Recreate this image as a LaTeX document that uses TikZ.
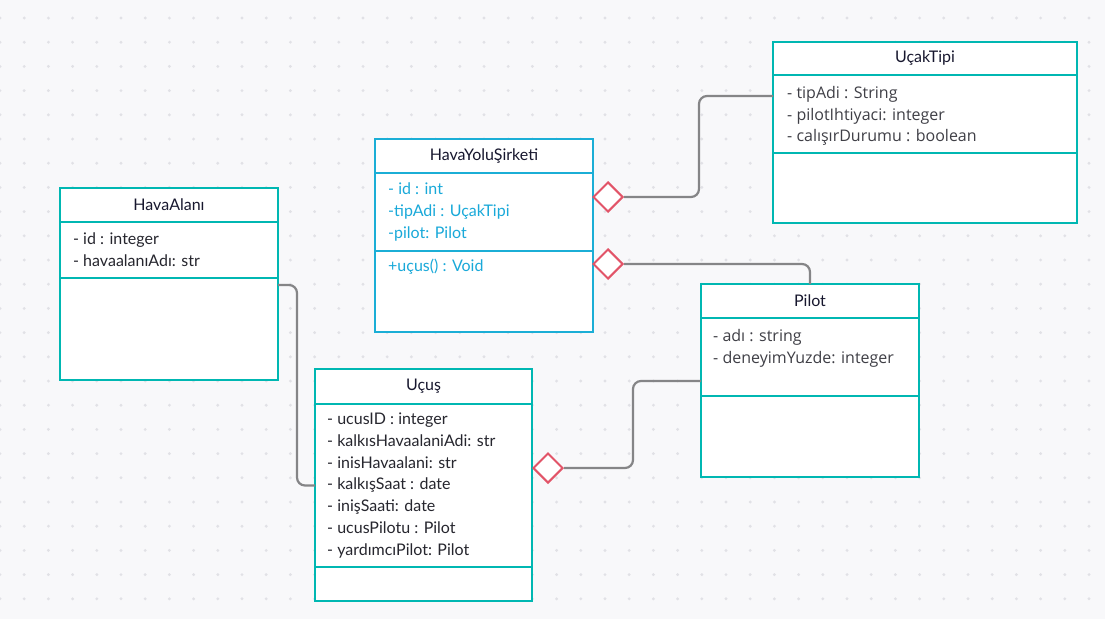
\documentclass[tikz,border=0pt]{standalone}
\usepackage{fontspec}
\setmainfont{Lato}
\newfontfamily\opensans{Open Sans}
\usetikzlibrary{positioning,shapes.geometric}
\definecolor{bg}{HTML}{F8F8FA}
\definecolor{griddot}{HTML}{E1E1E6}
\definecolor{boxteal}{HTML}{00B7B2}
\definecolor{boxblue}{HTML}{1BAED6}
\definecolor{cyantext}{HTML}{19A9D9}
\definecolor{navy}{HTML}{17172E}
\definecolor{ink}{HTML}{26262E}
\definecolor{graytext}{HTML}{3F3F46}
\definecolor{wiregray}{HTML}{858587}
\definecolor{aggred}{HTML}{E25468}
\tikzset{
  box/.style={draw=boxteal, line width=2pt, fill=white, outer sep=0pt, inner sep=0pt, minimum width=218pt},
  head/.style={box, minimum height=34pt, font=\fontsize{16}{19}\selectfont, text=navy},
  txt/.style={anchor=west, align=left, inner sep=0pt, text=ink, font=\fontsize{16}{21.8}\selectfont},
  greytxt/.style={txt, text=graytext, font=\opensans\fontsize{16}{21.8}\selectfont},
  bluetxt/.style={txt, text=cyantext},
  wire/.style={draw=wiregray, line width=2.2pt, rounded corners=8pt},
  agg/.style={diamond, draw=aggred, fill=white, line width=2pt, minimum size=30pt, inner sep=0pt}
}

\begin{document}
\begin{tikzpicture}[x=1pt, y=-1pt]
  \fill[bg] (0,0) rectangle (1105,619);
  \useasboundingbox (0,0) rectangle (1105,619);
  \foreach \i in {0,...,45}
    \foreach \j in {0,...,25}
      \fill[griddot] (24.2*\i,18+24.2*\j) circle (1.6);

  % HavaYoluSirketi
  \node[head, draw=boxblue] (hys) at (484,156) {HavaYoluŞirketi};
  \node[box, draw=boxblue, below=0pt of hys, minimum height=78pt] (hysattr) {};
  \node[box, draw=boxblue, below=0pt of hysattr, minimum height=81pt] (hysmeth) {};
  \node[bluetxt, right=13pt of hysattr.west] (hysattrtxt) {- id : int\\-tipAdi : UçakTipi\\-pilot: Pilot};
  \node[bluetxt] (hysmethtxt) at ([xshift=13pt,yshift=-16pt]hysmeth.north west) {+uçus() : Void};

  % UcakTipi
  \node[head, minimum width=304pt, minimum height=33pt] (ut) at (925,58.5) {UçakTipi};
  \node[box, minimum width=304pt, below=0pt of ut, minimum height=78pt] (utattr) {};
  \node[box, minimum width=304pt, below=0pt of utattr, minimum height=70pt] (utrest) {};
  \node[greytxt, right=14pt of utattr.west, yshift=-2pt] (utattrtxt) {- tipAdi : String\\- pilotIhtiyaci: integer\\- calışırDurumu : boolean};

  % HavaAlani
  \node[head] (ha) at (169,205) {HavaAlanı};
  \node[box, below=0pt of ha, minimum height=56pt] (haattr) {};
  \node[box, below=0pt of haattr, minimum height=102pt] (harest) {};
  \node[txt, right=13pt of haattr.west] (haattrtxt) {- id : integer\\- havaalanıAdı: str};

  % Pilot
  \node[head] (pl) at (810,301) {Pilot};
  \node[box, below=0pt of pl, minimum height=78pt] (plattr) {};
  \node[box, below=0pt of plattr, minimum height=81pt] (plrest) {};
  \node[greytxt, right=12pt of plattr.west] (plattrtxt) {- adı : string\\- deneyimYuzde: integer\\\mbox{}};

  % Ucus
  \node[head, minimum width=217pt, minimum height=35pt] (uc) at (423.5,386.5) {Uçuş};
  \node[box, minimum width=217pt, below=0pt of uc, minimum height=163pt] (ucattr) {};
  \node[box, minimum width=217pt, below=0pt of ucattr, minimum height=34pt] (ucmeth) {};
  \node[txt, right=12pt of ucattr.west] (ucattrtxt) {- ucusID : integer\\- kalkısHavaalaniAdi: str\\- inisHavaalani: str\\- kalkışSaat : date\\- inişSaati: date\\- ucusPilotu : Pilot\\- yardımcıPilot: Pilot};

  % aggregations
  \node[agg] (dut) at (608,197) {};
  \node[agg] (dpl) at (608,264) {};
  \node[agg] (duc) at (548,468) {};

  \draw[wire] (dut.east) -- ++(75,0) |- ([yshift=18pt]utattr.west);
  \draw[wire] (dpl.east) -| (pl.north);
  \draw[wire] (duc.east) -- ++(69,0) |- ([yshift=-24pt]plattr.west);
  \draw[wire] ([yshift=-7pt]harest.north east) -- ++(19,0) |- (ucattr.west);
\end{tikzpicture}
\end{document}
